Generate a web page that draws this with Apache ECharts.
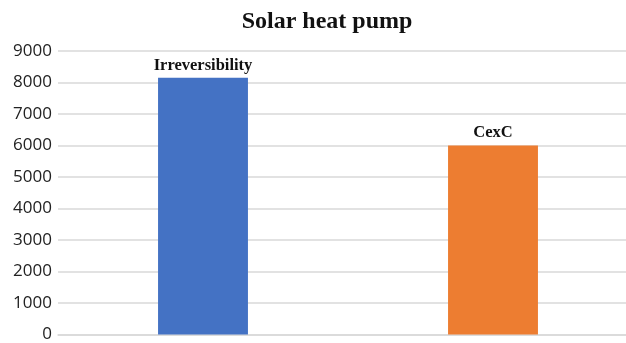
<!DOCTYPE html>
<html>
<head>
<meta charset="utf-8">
<script src="https://cdn.jsdelivr.net/npm/echarts@6/dist/echarts.min.js"></script>
<style>
  html, body { margin: 0; padding: 0; background: #ffffff; overflow: hidden; }
  /* the drawing surface is a little wider than the page, so the plot runs off the right edge */
  #chart { width: 640px; height: 343px; }
</style>
</head>
<body>
<div id="chart"></div>
<script>
// Exergy quantities for the solar heat pump
const categories = ['Irreversibility', 'CexC'];
const values = [8150, 6000];
const barColors = ['#4472C4', '#ED7D31'];
const yTicks = [0, 1000, 2000, 3000, 4000, 5000, 6000, 7000, 8000, 9000];

const chart = echarts.init(document.getElementById('chart'), null, { renderer: 'canvas' });

chart.setOption({
  animation: false,
  backgroundColor: '#ffffff',
  title: {
    text: 'Solar heat pump',
    left: 322,
    textAlign: 'center',
    top: 5,
    textStyle: {
      fontFamily: 'Liberation Serif',
      fontWeight: 'bold',
      fontSize: 24,
      color: '#111111'
    }
  },
  grid: { left: 58, right: 2, top: 51, bottom: 5, containLabel: false },
  xAxis: {
    type: 'category',
    data: categories,
    axisLine: { show: true, lineStyle: { color: '#d9d9d9', width: 1.5 } },
    axisTick: { show: false },
    axisLabel: { show: false }
  },
  yAxis: {
    type: 'value',
    min: yTicks[0],
    max: yTicks[yTicks.length - 1],
    interval: 1000,
    axisLine: { show: false },
    axisTick: { show: false },
    splitLine: { lineStyle: { color: '#d9d9d9', width: 1.5 } },
    axisLabel: {
      margin: 6,
      fontFamily: 'Open Sans',
      fontSize: 17,
      color: '#222222',
      formatter: v => String(v)
    }
  },
  series: [{
    type: 'bar',
    barWidth: '31%',
    data: values.map((v, i) => ({ value: v, itemStyle: { color: barColors[i] } })),
    label: {
      show: true,
      position: 'top',
      distance: 4,
      formatter: '{b}',
      fontFamily: 'Liberation Serif',
      fontWeight: 'bold',
      fontSize: 16.5,
      color: '#111111'
    }
  }]
});
</script>
</body>
</html>
